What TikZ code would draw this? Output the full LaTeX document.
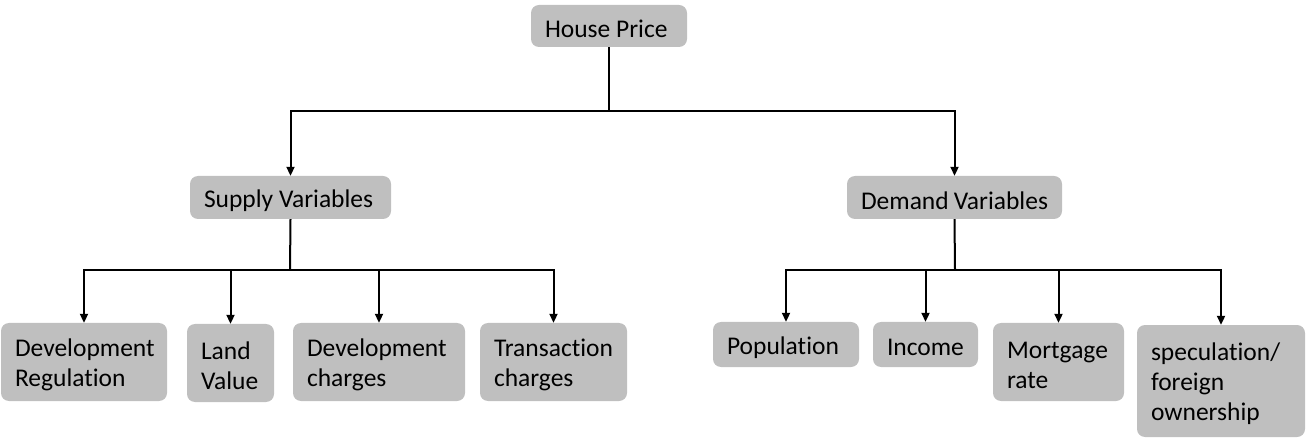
\documentclass[tikz,border=0pt]{standalone}
\usepackage{fontspec}
\setmainfont{Carlito}[Ligatures={NoCommon}]
\usetikzlibrary{arrows.meta}
\definecolor{boxgray}{HTML}{BFBFBF}
\tikzset{
  box/.style={fill=boxgray, rounded corners=8pt, inner xsep=14pt, inner ysep=0pt,
    font=\fontsize{25.5}{30}\selectfont, anchor=center},
  conn/.style={line width=2pt, -{Triangle[length=9pt,width=8pt]}},
  plain/.style={line width=2pt}
}
\newcommand{\bx}[7]{% name, x1, y1, x2, y2, text
  \node[box, minimum width={#4-#2}, minimum height={#5-#3}] (#1) at ({(#2+#4)/2},{(#3+#5)/2})
   {\raisebox{-3pt}[\height][\depth]{\parbox{\dimexpr #4pt-#2pt-28pt\relax}{\raggedright #6}}};}
\begin{document}
\begin{tikzpicture}[x=1pt,y=-1pt]
\useasboundingbox (0,0) rectangle (1308,443);
\bx{hp}{531}{5}{687}{47}{House Price}{}
\bx{sv}{190}{176}{391}{219}{Supply Variables}{}
\bx{dv}{847}{176}{1062}{219}{Demand Variables}{}
\bx{dr}{1}{323}{167}{401}{Development\\Regulation}{}
\bx{lv}{187}{324}{274}{402}{Land\\Value}{}
\bx{dc}{293}{323}{465}{401}{Development\\charges}{}
\bx{tc}{480}{323}{627}{401}{Transaction\\charges}{}
\bx{po}{713}{322}{859}{367}{Population}{}
\bx{in}{873}{322}{978}{367}{Income}{}
\bx{mr}{993}{323}{1124}{401}{Mortgage\\rate}{}
\bx{sf}{1137}{325}{1305}{437}{speculation/\\foreign\\ownership}{}
% top level
\coordinate (j0) at (609,111);
\draw[plain] (hp.south) -- (j0);
\draw[conn] (j0) -| (sv.north);
\draw[conn] (j0) -| (dv.north);
% supply
\coordinate (j1) at (290,270);
\draw[plain] (sv.south) -- (j1);
\draw[conn] (j1) -| (dr.north);
\draw[conn] (j1) -| (lv.north);
\draw[conn] (j1) -| (dc.north);
\draw[conn] (j1) -| (tc.north);
% demand
\coordinate (j2) at (955,270);
\draw[plain] (dv.south) -- (j2);
\draw[conn] (j2) -| (po.north);
\draw[conn] (j2) -| (in.north);
\draw[conn] (j2) -| (mr.north);
\draw[conn] (j2) -| (sf.north);
\end{tikzpicture}
\end{document}
